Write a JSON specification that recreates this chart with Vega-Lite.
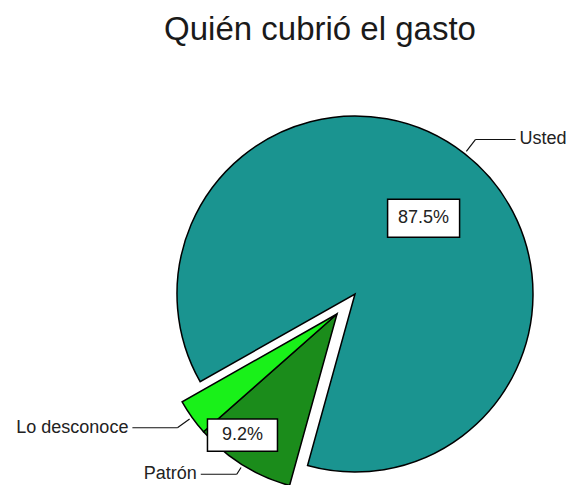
{
  "$schema": "https://vega.github.io/schema/vega-lite/v6.json",
  "autosize": "none",
  "width": 420,
  "height": 370,
  "padding": {"left": 145, "top": 109, "right": 4, "bottom": 6},
  "background": "white",
  "title": {
    "text": "Quién cubrió el gasto",
    "font": "Liberation Sans",
    "fontSize": 33,
    "fontWeight": "normal",
    "color": "#1a1a1a",
    "anchor": "middle",
    "frame": "group",
    "baseline": "alphabetic",
    "offset": 36,
    "dx": -35
  },
  "data": {
    "values": [
      {"quien": "Usted", "p": 0.875},
      {"quien": "Patrón", "p": 0.092},
      {"quien": "Lo desconoce", "p": 0.033}
    ]
  },
  "transform": [
    {"stack": "p", "groupby": [], "sort": [{"field": "p", "order": "descending"}], "as": ["p0", "p1"]},
    {"calculate": "(datum.p0 + datum.p1) / 2", "as": "pm"}
  ],
  "layer": [
    {
      "transform": [{"filter": "datum.quien === 'Usted'"}],
      "mark": {"type": "arc", "radius": 178, "stroke": "black", "strokeWidth": 1.5},
      "encoding": {
        "theta": {"field": "p0", "type": "quantitative", "stack": null, "scale": {"domain": [0, 1], "range": [4.197, 10.480]}},
        "theta2": {"field": "p1"},
        "color": {"field": "quien", "type": "nominal", "scale": {"domain": ["Usted", "Patrón", "Lo desconoce"], "range": ["#1a9490", "#1b8c1b", "#19f119"]}, "legend": null}
      }
    },
    {
      "transform": [{"filter": "datum.quien !== 'Usted'"}],
      "mark": {"type": "arc", "radius": 178, "stroke": "black", "strokeWidth": 1.5, "xOffset": -18, "yOffset": 20},
      "encoding": {
        "theta": {"field": "p0", "type": "quantitative", "stack": null},
        "theta2": {"field": "p1"},
        "color": {"field": "quien", "type": "nominal", "legend": null}
      }
    },
    {
      "transform": [{"filter": "datum.quien === 'Usted'"}],
      "mark": {"type": "arc", "radius": 196, "radius2": 181, "fill": "transparent", "stroke": "#111111", "strokeWidth": 1.2},
      "encoding": {
        "theta": {"field": "pm", "type": "quantitative", "stack": null},
        "theta2": {"field": "pm"}
      }
    },
    {
      "transform": [{"filter": "datum.quien === 'Lo desconoce'"}],
      "mark": {"type": "arc", "radius": 196, "radius2": 181, "fill": "transparent", "stroke": "#111111", "strokeWidth": 1.2, "xOffset": -18, "yOffset": 20},
      "encoding": {
        "theta": {"field": "pm", "type": "quantitative", "stack": null},
        "theta2": {"field": "pm"}
      }
    },
    {
      "transform": [{"filter": "datum.quien === 'Patrón'"}],
      "mark": {"type": "arc", "radius": 189, "radius2": 181, "fill": "transparent", "stroke": "#111111", "strokeWidth": 1.2, "xOffset": -18, "yOffset": 20},
      "encoding": {
        "theta": {"field": "pm", "type": "quantitative", "stack": null},
        "theta2": {"field": "pm"}
      }
    },
    {
      "mark": {"type": "rule", "stroke": "#111111", "strokeWidth": 1.2},
      "encoding": {
        "x": {"value": {"expr": "width/2 + (datum.quien === 'Usted' ? 0 : -18) + (datum.quien === 'Patrón' ? 189 : 196)*sin(scale('theta', datum.pm))"}},
        "x2": {"value": {"expr": "width/2 + (datum.quien === 'Usted' ? 40 : datum.quien === 'Patrón' ? -54 : -63) + (datum.quien === 'Patrón' ? 189 : 196)*sin(scale('theta', datum.pm))"}},
        "y": {"value": {"expr": "height/2 + (datum.quien === 'Usted' ? 0 : 20) - (datum.quien === 'Patrón' ? 189 : 196)*cos(scale('theta', datum.pm))"}},
        "y2": {"value": {"expr": "height/2 + (datum.quien === 'Usted' ? 0 : 20) - (datum.quien === 'Patrón' ? 189 : 196)*cos(scale('theta', datum.pm))"}},
        "detail": {"field": "quien"}
      }
    },
    {
      "transform": [{"filter": "datum.quien === 'Usted'"}],
      "mark": {"type": "text", "radius": 196, "align": "left", "baseline": "middle", "dx": 44, "font": "Liberation Sans", "fontSize": 18, "color": "#222222"},
      "encoding": {
        "theta": {"field": "pm", "type": "quantitative", "stack": null},
        "text": {"field": "quien"}
      }
    },
    {
      "transform": [{"filter": "datum.quien === 'Lo desconoce'"}],
      "mark": {"type": "text", "radius": 196, "align": "right", "baseline": "middle", "xOffset": -18, "yOffset": 20, "dx": -49, "font": "Liberation Sans", "fontSize": 18, "color": "#222222"},
      "encoding": {
        "theta": {"field": "pm", "type": "quantitative", "stack": null},
        "text": {"field": "quien"}
      }
    },
    {
      "transform": [{"filter": "datum.quien === 'Patrón'"}],
      "mark": {"type": "text", "radius": 189, "align": "right", "baseline": "middle", "xOffset": -18, "yOffset": 20, "dx": -40, "font": "Liberation Sans", "fontSize": 18, "color": "#222222"},
      "encoding": {
        "theta": {"field": "pm", "type": "quantitative", "stack": null},
        "text": {"field": "quien"}
      }
    },
    {
      "transform": [{"filter": "datum.quien === 'Usted'"}],
      "mark": {
        "type": "point", "shape": "M-1,-0.53L1,-0.53L1,0.53L-1,0.53Z", "size": 5184, "filled": true, "fill": "white", "opacity": 1, "stroke": "black", "strokeWidth": 1.5,
        "x": {"expr": "width/2 + 4 + 105*sin(scale('theta', datum.pm))"},
        "y": {"expr": "height/2 + 7 - 105*cos(scale('theta', datum.pm))"}
      },
      "encoding": {"detail": {"field": "quien"}}
    },
    {
      "transform": [{"filter": "datum.quien === 'Patrón'"}],
      "mark": {
        "type": "point", "shape": "M-1,-0.46L1,-0.46L1,0.46L-1,0.46Z", "size": 4900, "filled": true, "fill": "white", "opacity": 1, "stroke": "black", "strokeWidth": 1.5,
        "x": {"expr": "width/2 - 33 + 150*sin(scale('theta', datum.pm))"},
        "y": {"expr": "height/2 + 14 - 150*cos(scale('theta', datum.pm))"}
      },
      "encoding": {"detail": {"field": "quien"}}
    },
    {
      "transform": [{"filter": "datum.quien === 'Usted'"}],
      "mark": {"type": "text", "radius": 105, "align": "center", "baseline": "middle", "xOffset": 4, "yOffset": 7, "font": "Liberation Sans", "fontSize": 18, "color": "#222222"},
      "encoding": {
        "theta": {"field": "pm", "type": "quantitative", "stack": null},
        "text": {"field": "p", "format": ".1%"}
      }
    },
    {
      "transform": [{"filter": "datum.quien === 'Patrón'"}],
      "mark": {"type": "text", "radius": 150, "align": "center", "baseline": "middle", "xOffset": -33, "yOffset": 14, "font": "Liberation Sans", "fontSize": 18, "color": "#222222"},
      "encoding": {
        "theta": {"field": "pm", "type": "quantitative", "stack": null},
        "text": {"field": "p", "format": ".1%"}
      }
    }
  ],
  "config": {"view": {"stroke": null}}
}
